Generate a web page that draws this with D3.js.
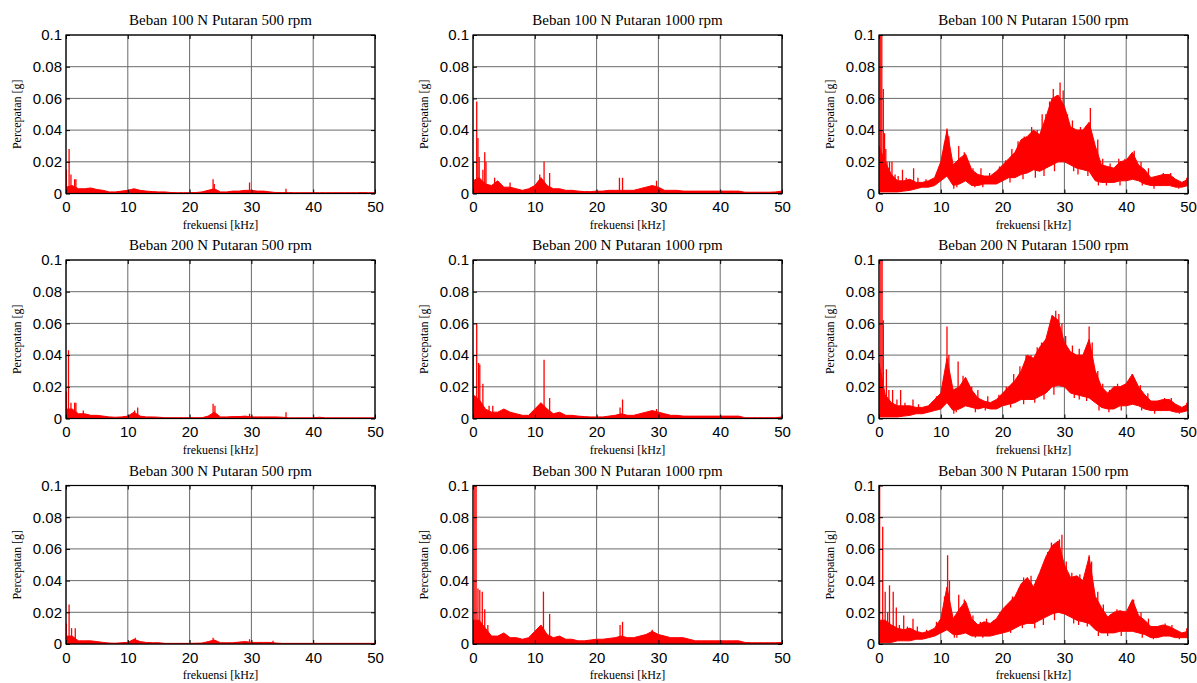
<!DOCTYPE html>
<html>
<head>
	<meta charset="utf-8">
	<title>Spektrum percepatan</title>
	<script src="https://d3js.org/d3.v7.min.js"></script>
	<style>
	html, body {margin: 0; background: #fff; overflow: hidden}
	.title {font-family: "Liberation Serif", "Times New Roman", serif; font-size: 15px; fill: #000}
	.xlabel, .ylabel {font-family: "Liberation Serif", "Times New Roman", serif; font-size: 12px; fill: #000}
	.axis text {font-family: "Liberation Sans", Arial, sans-serif; font-size: 15px; fill: #000}
	.axis line {stroke: #000}
	.axis path {display: none}
	.grid line {stroke: #6a6a6a; stroke-width: 1}
	.box {fill: none; stroke: #000; stroke-width: 1.2}
	</style>
</head>
<body>
<script>
	// frequency grid in kHz (one envelope value per kHz)
	var freqKHz = [0,1,2,3,4,5,6,7,8,9,10,11,12,13,14,15,16,17,18,19,20,21,22,23,24,25,
		26,27,28,29,30,31,32,33,34,35,36,37,38,39,40,41,42,43,44,45,46,47,48,49,50];
	var xTicks = [0, 10, 20, 30, 40, 50];
	var yTicks = [0, 0.02, 0.04, 0.06, 0.08, 0.1];

	// ---- Beban 100 N ----
	var hi_100_500 = [
		0.004,0.005,0.003,0.003,0.0035,0.0025,0.002,0.001,0.001,0.0015,
		0.002,0.003,0.002,0.0015,0.0012,0.001,0.001,0.0006,0.0005,0.0005,
		0.0005,0.0006,0.001,0.002,0.003,0.001,0.001,0.0015,0.0015,0.002,
		0.002,0.0015,0.0015,0.001,0.0006,0.0006,0.0006,0.0005,0.0005,0.0005,
		0.0005,0.0005,0.0005,0.0005,0.0005,0.0005,0.0005,0.0005,0.0006,0.0005,
		0.0005];
	var spk_100_500 = [[0.05,0.015],[0.5,0.028],[0.8,0.012],[1.4,0.009],[1.6,0.009],
		[23.8,0.009],[24,0.006],[29.7,0.007],[35.6,0.003]];

	var hi_100_1000 = [
		0.008,0.01,0.006,0.005,0.008,0.004,0.004,0.003,0.002,0.003,
		0.005,0.01,0.005,0.003,0.003,0.002,0.002,0.0015,0.0012,0.0012,
		0.0015,0.0015,0.002,0.002,0.002,0.002,0.002,0.003,0.004,0.005,
		0.004,0.002,0.002,0.002,0.0015,0.0015,0.0015,0.0015,0.0015,0.0015,
		0.0015,0.0015,0.0015,0.0015,0.0008,0.0008,0.0008,0.0008,0.0008,0.001,
		0.0015];
	var spk_100_1000 = [[0.05,0.02],[0.6,0.058],[0.8,0.035],[1.0,0.023],[1.6,0.015],[1.9,0.026],
		[2.1,0.02],[3.5,0.01],[6,0.007],[10.8,0.012],[11.5,0.02],[12.4,0.013],[23.7,0.01],
		[24.2,0.01],[29.7,0.008]];

	var hi_100_1500 = [
		0.03,0.02,0.012,0.008,0.008,0.009,0.007,0.007,0.008,0.01,
		0.02,0.04,0.018,0.022,0.025,0.015,0.012,0.011,0.011,0.014,
		0.018,0.022,0.026,0.034,0.036,0.04,0.037,0.048,0.06,0.062,
		0.055,0.042,0.04,0.04,0.045,0.03,0.018,0.017,0.016,0.02,
		0.021,0.026,0.018,0.015,0.01,0.011,0.012,0.012,0.009,0.007,
		0.009];
	var lo_100_1500 = [
		0.001,0.001,0.001,0.001,0.0015,0.002,0.003,0.004,0.004,0.005,
		0.008,0.011,0.005,0.006,0.008,0.005,0.005,0.006,0.006,0.006,
		0.008,0.01,0.01,0.012,0.013,0.015,0.014,0.016,0.018,0.02,
		0.02,0.018,0.016,0.015,0.014,0.008,0.007,0.007,0.007,0.008,
		0.008,0.009,0.008,0.006,0.005,0.005,0.005,0.005,0.004,0.004,
		0.005];
	var spk_100_1500 = [[0.2,0.1],[0.45,0.1],[0.7,0.066],[0.9,0.038],[1.1,0.028],[1.3,0.02],
		[1.7,0.02],[2.1,0.02],[2.6,0.012],[3.1,0.011],[3.8,0.015],[4.4,0.01],[5.6,0.016],
		[6.3,0.01],[7.6,0.009],[9.4,0.013],[10.6,0.032],[11,0.041],[11.3,0.036],[12.9,0.03],
		[13.8,0.026],[15.2,0.016],[16.5,0.016],[17.9,0.013],[19.5,0.017],[20.5,0.021],
		[21.5,0.028],[22.5,0.033],[23.5,0.036],[24.7,0.042],[25.6,0.04],[26.4,0.05],[27,0.05],
		[27.6,0.058],[28.2,0.066],[28.8,0.062],[29.3,0.07],[29.8,0.065],[30.5,0.05],
		[31.3,0.046],[32.6,0.042],[33.5,0.042],[34.2,0.054],[35.4,0.034],[36.2,0.022],
		[37.4,0.019],[38.8,0.022],[39.8,0.022],[41.3,0.027],[42.4,0.02],[43.6,0.016],
		[46,0.013],[47.2,0.013],[49.8,0.01]];
	var dip_100_1500 = [[12.1,0.003],[12.6,0.004],[15.5,0.004],[16.8,0.004],[21.2,0.007],
		[23.3,0.009],[25.3,0.01],[26.7,0.011],[28.4,0.014],[31.5,0.014],[32.2,0.012],
		[33.8,0.011],[35.5,0.005],[36.8,0.005],[39,0.005],[42.6,0.005],[44.5,0.003],
		[48.5,0.003]];

	// ---- Beban 200 N ----
	var hi_200_500 = [
		0.006,0.006,0.003,0.003,0.002,0.002,0.0015,0.001,0.0008,0.001,
		0.0015,0.004,0.0015,0.001,0.001,0.0008,0.0005,0.0005,0.0005,0.0005,
		0.0005,0.0005,0.0005,0.0015,0.004,0.001,0.001,0.0012,0.0012,0.0015,
		0.001,0.001,0.001,0.001,0.001,0.0008,0.0004,0.0004,0.0004,0.0004,
		0.0004,0.0008,0.0004,0.0004,0.0004,0.0004,0.0004,0.0004,0.0004,0.0004,
		0.0004];
	var spk_200_500 = [[0.05,0.017],[0.4,0.043],[0.8,0.01],[1.4,0.01],[1.6,0.01],[2.8,0.005],
		[11.1,0.005],[11.6,0.007],[23.8,0.0093],[24.1,0.008],[29.7,0.003],[35.6,0.004]];

	var hi_200_1000 = [
		0.015,0.012,0.006,0.004,0.004,0.006,0.004,0.003,0.002,0.002,
		0.006,0.01,0.006,0.003,0.004,0.002,0.002,0.0015,0.0012,0.001,
		0.001,0.001,0.0015,0.002,0.003,0.002,0.002,0.003,0.004,0.005,
		0.004,0.003,0.002,0.002,0.0015,0.0015,0.0015,0.0015,0.0015,0.0015,
		0.0015,0.0015,0.0015,0.0015,0.0005,0.0005,0.0005,0.0005,0.0005,0.0005,
		0.001];
	var spk_200_1000 = [[0.05,0.04],[0.6,0.06],[0.9,0.035],[1.1,0.034],[1.6,0.022],[2.6,0.008],
		[3.2,0.008],[11.5,0.037],[12.4,0.013],[23.8,0.007],[24.2,0.012],[29.7,0.006]];

	var hi_200_1500 = [
		0.035,0.015,0.01,0.008,0.008,0.008,0.007,0.007,0.008,0.012,
		0.016,0.038,0.018,0.02,0.026,0.018,0.013,0.011,0.01,0.012,
		0.016,0.02,0.024,0.03,0.04,0.038,0.045,0.05,0.065,0.062,
		0.048,0.042,0.04,0.04,0.05,0.03,0.02,0.016,0.02,0.02,
		0.022,0.028,0.02,0.015,0.011,0.011,0.012,0.012,0.009,0.007,
		0.009];
	var lo_200_1500 = [
		0.001,0.001,0.001,0.001,0.0015,0.002,0.003,0.003,0.004,0.005,
		0.006,0.01,0.005,0.006,0.008,0.007,0.006,0.007,0.006,0.006,
		0.008,0.009,0.01,0.012,0.012,0.012,0.014,0.016,0.02,0.021,
		0.02,0.016,0.015,0.014,0.013,0.01,0.007,0.006,0.006,0.008,
		0.008,0.009,0.008,0.006,0.005,0.005,0.005,0.005,0.004,0.004,
		0.005];
	var spk_200_1500 = [[0.3,0.1],[0.5,0.1],[0.7,0.062],[1.2,0.031],[1.6,0.018],[2.2,0.018],
		[2.9,0.012],[3.5,0.018],[4.2,0.01],[5.5,0.012],[6.4,0.009],[9.3,0.014],[10.6,0.026],
		[11,0.058],[11.3,0.04],[12.8,0.036],[13.6,0.027],[15,0.02],[16,0.018],[17.6,0.014],
		[19.4,0.015],[20.6,0.02],[21.8,0.028],[22.8,0.033],[23.8,0.04],[24.6,0.04],
		[25.6,0.045],[26.3,0.048],[27,0.05],[27.6,0.058],[28,0.065],[28.6,0.068],[29.1,0.066],
		[29.6,0.06],[30.2,0.052],[31.3,0.046],[32.4,0.044],[33.3,0.042],[34,0.058],
		[34.5,0.048],[35.4,0.03],[36.2,0.022],[37.3,0.018],[38.6,0.022],[40.2,0.023],
		[41,0.028],[42.3,0.021],[43.5,0.016],[46.2,0.013],[47.3,0.013],[49.8,0.01]];
	var dip_200_1500 = [[12.1,0.003],[12.5,0.004],[15.6,0.004],[17.2,0.005],[21.3,0.007],
		[23.4,0.009],[25.2,0.01],[26.7,0.012],[28.3,0.015],[31.6,0.013],[32.4,0.012],
		[33.6,0.011],[35.6,0.005],[37.2,0.004],[39.2,0.005],[42.5,0.005],[44.6,0.003],
		[48.6,0.003]];

	// ---- Beban 300 N ----
	var hi_300_500 = [
		0.005,0.005,0.002,0.002,0.002,0.0015,0.001,0.0006,0.0005,0.0008,
		0.001,0.003,0.0015,0.001,0.0008,0.0008,0.0004,0.0004,0.0004,0.0004,
		0.0004,0.0005,0.0006,0.0015,0.0025,0.0008,0.0008,0.0008,0.0012,0.0015,
		0.001,0.001,0.001,0.001,0.0006,0.0004,0.0004,0.0004,0.0004,0.0004,
		0.0004,0.0004,0.0004,0.0004,0.0004,0.0004,0.0004,0.0004,0.0004,0.0004,
		0.0004];
	var spk_300_500 = [[0.05,0.013],[0.5,0.025],[0.9,0.01],[1.5,0.01],[11.2,0.004],
		[23.8,0.004],[29.7,0.003],[33.5,0.002]];

	var hi_300_1000 = [
		0.015,0.015,0.01,0.005,0.005,0.007,0.004,0.004,0.003,0.004,
		0.008,0.012,0.006,0.004,0.005,0.003,0.003,0.002,0.002,0.0025,
		0.003,0.003,0.0035,0.004,0.005,0.004,0.004,0.005,0.006,0.008,
		0.006,0.005,0.004,0.004,0.004,0.003,0.002,0.002,0.002,0.002,
		0.002,0.002,0.002,0.002,0.001,0.0008,0.0008,0.0008,0.0008,0.0008,
		0.001];
	var spk_300_1000 = [[0.3,0.1],[0.5,0.1],[0.8,0.035],[1.1,0.034],[1.5,0.033],[1.9,0.022],
		[2.4,0.012],[11.4,0.033],[12.4,0.019],[23.8,0.012],[24.2,0.014],[29,0.009]];

	var hi_300_1500 = [
		0.015,0.015,0.012,0.01,0.009,0.01,0.008,0.007,0.008,0.01,
		0.016,0.036,0.016,0.022,0.027,0.016,0.012,0.014,0.013,0.016,
		0.022,0.026,0.03,0.038,0.042,0.036,0.045,0.055,0.062,0.065,
		0.05,0.042,0.043,0.04,0.055,0.03,0.023,0.017,0.02,0.021,
		0.02,0.028,0.018,0.015,0.011,0.011,0.012,0.011,0.009,0.007,
		0.008];
	var lo_300_1500 = [
		0.001,0.001,0.001,0.002,0.002,0.002,0.003,0.003,0.004,0.005,
		0.007,0.009,0.006,0.006,0.007,0.005,0.005,0.005,0.005,0.006,
		0.007,0.008,0.01,0.012,0.013,0.013,0.015,0.017,0.019,0.02,
		0.019,0.017,0.015,0.014,0.013,0.009,0.007,0.007,0.007,0.008,
		0.008,0.008,0.007,0.006,0.004,0.004,0.005,0.005,0.004,0.004,
		0.004];
	var spk_300_1500 = [[0.1,0.1],[0.6,0.074],[1.0,0.033],[1.4,0.02],[1.7,0.037],[2.3,0.033],
		[2.8,0.023],[3.3,0.012],[4,0.018],[4.6,0.011],[5.5,0.016],[6.2,0.011],[7.7,0.009],
		[9.3,0.014],[10.6,0.03],[11.1,0.056],[11.4,0.04],[12.9,0.031],[13.8,0.028],[15.2,0.018],
		[16.4,0.014],[17.4,0.016],[18.6,0.015],[19.6,0.02],[20.5,0.024],[21.6,0.03],
		[22.6,0.035],[23.4,0.042],[24.6,0.043],[25.4,0.04],[26.6,0.05],[27.3,0.058],
		[27.9,0.064],[28.6,0.062],[29.2,0.066],[29.6,0.069],[30.3,0.052],[31.2,0.045],
		[32.5,0.044],[33.3,0.04],[34,0.056],[34.4,0.052],[35.4,0.033],[36.3,0.025],
		[37.5,0.019],[38.5,0.022],[39.8,0.021],[41.2,0.028],[42.4,0.02],[43.6,0.016],
		[46.3,0.013],[47.4,0.012],[49.8,0.01]];
	var dip_300_1500 = [[12.2,0.004],[12.6,0.004],[15.6,0.004],[16.8,0.004],[21.3,0.007],
		[23.2,0.01],[25.2,0.01],[26.6,0.012],[28.4,0.015],[31.5,0.013],[32.3,0.012],
		[33.7,0.011],[35.5,0.005],[37,0.005],[39.2,0.005],[42.6,0.004],[44.4,0.003],
		[48.6,0.003]];

	var panels = [
		{title: "Beban 100 N Putaran 500 rpm", hi: hi_100_500, lo: null, spikes: spk_100_500},
		{title: "Beban 100 N Putaran 1000 rpm", hi: hi_100_1000, lo: null, spikes: spk_100_1000},
		{title: "Beban 100 N Putaran 1500 rpm", hi: hi_100_1500, lo: lo_100_1500, spikes: spk_100_1500.concat(dip_100_1500)},
		{title: "Beban 200 N Putaran 500 rpm", hi: hi_200_500, lo: null, spikes: spk_200_500},
		{title: "Beban 200 N Putaran 1000 rpm", hi: hi_200_1000, lo: null, spikes: spk_200_1000},
		{title: "Beban 200 N Putaran 1500 rpm", hi: hi_200_1500, lo: lo_200_1500, spikes: spk_200_1500.concat(dip_200_1500)},
		{title: "Beban 300 N Putaran 500 rpm", hi: hi_300_500, lo: null, spikes: spk_300_500},
		{title: "Beban 300 N Putaran 1000 rpm", hi: hi_300_1000, lo: null, spikes: spk_300_1000},
		{title: "Beban 300 N Putaran 1500 rpm", hi: hi_300_1500, lo: lo_300_1500, spikes: spk_300_1500.concat(dip_300_1500)}
	];

	var width = 1197, height = 683;
	var colLeft = [66, 473, 879];
	var rowTop = [35, 260, 485.5];
	var pw = 309, ph = 158.5;

	var svg = d3.select("body").append("svg")
		.attr("width", width)
		.attr("height", height);

	var x = d3.scaleLinear().domain([0, 50]).range([0, pw]);
	var y = d3.scaleLinear().domain([0, 0.1]).range([ph, 0]);
	var fmt = function(d){ return d === 0 ? "0" : d3.format(".2~f")(d); };

	panels.forEach(function(p, i){
		var col = i % 3, row = Math.floor(i / 3);
		var g = svg.append("g")
			.attr("transform", "translate(" + colLeft[col] + "," + rowTop[row] + ")");

		g.append("clipPath").attr("id", "clip" + i)
			.append("rect").attr("width", pw).attr("height", ph);

		// grid
		var grid = g.append("g").attr("class", "grid");
		grid.selectAll(".gx").data(xTicks).enter().append("line")
			.attr("x1", function(d){ return x(d); }).attr("x2", function(d){ return x(d); })
			.attr("y1", 0).attr("y2", ph);
		grid.selectAll(".gy").data(yTicks).enter().append("line")
			.attr("x1", 0).attr("x2", pw)
			.attr("y1", function(d){ return y(d); }).attr("y2", function(d){ return y(d); });

		var plot = g.append("g").attr("clip-path", "url(#clip" + i + ")");

		// envelope value at frequency f (linear between the 1 kHz points)
		var interp = function(arr, f){
			var j = Math.min(49, Math.floor(f)), t = f - j;
			return arr[j] * (1 - t) + arr[j + 1] * t;
		};
		var base = function(f){
			return p.lo ? interp(p.lo, f) : 0;
		};

		var area = d3.area()
			.x(function(d, j){ return x(freqKHz[j]); })
			.y0(function(d, j){ return y(p.lo ? p.lo[j] : 0); })
			.y1(function(d){ return y(d); });

		plot.append("path")
			.datum(p.hi)
			.attr("d", area)
			.attr("fill", "#ff0000")
			.attr("stroke", "#ff0000")
			.attr("stroke-width", 1);

		plot.selectAll(".spike").data(p.spikes).enter().append("line")
			.attr("class", "spike")
			.attr("x1", function(d){ return x(d[0]); })
			.attr("x2", function(d){ return x(d[0]); })
			.attr("y1", function(d){ return y(d[1] < base(d[0]) ? base(d[0]) : (p.lo ? interp(p.hi, d[0]) * 0.5 + base(d[0]) * 0.5 : 0)); })
			.attr("y2", function(d){ return y(d[1]); })
			.attr("stroke", "#ff0000")
			.attr("stroke-width", 1.3);

		// axes with inward ticks
		g.append("g").attr("class", "axis")
			.attr("transform", "translate(0," + ph + ")")
			.call(d3.axisBottom(x).tickValues(xTicks).tickSize(-4).tickSizeOuter(0).tickPadding(8).tickFormat(d3.format("d")));
		g.append("g").attr("class", "axis")
			.call(d3.axisLeft(y).tickValues(yTicks).tickSize(-4).tickSizeOuter(0).tickPadding(4).tickFormat(fmt));
		g.append("g").attr("class", "axis")
			.call(d3.axisTop(x).tickValues(xTicks).tickSize(-4).tickSizeOuter(0).tickFormat(""));
		g.append("g").attr("class", "axis")
			.attr("transform", "translate(" + pw + ",0)")
			.call(d3.axisRight(y).tickValues(yTicks).tickSize(-4).tickSizeOuter(0).tickFormat(""));

		g.append("rect").attr("class", "box").attr("width", pw).attr("height", ph);

		g.append("text").attr("class", "title")
			.attr("x", pw / 2).attr("y", -10)
			.attr("text-anchor", "middle")
			.text(p.title);

		g.append("text").attr("class", "xlabel")
			.attr("x", pw / 2).attr("y", ph + 35)
			.attr("text-anchor", "middle")
			.text("frekuensi [kHz]");

		g.append("text").attr("class", "ylabel")
			.attr("transform", "translate(-45," + (ph / 2) + ")rotate(-90)")
			.attr("text-anchor", "middle")
			.text("Percepatan [g]");
	});
</script>
</body>
</html>
